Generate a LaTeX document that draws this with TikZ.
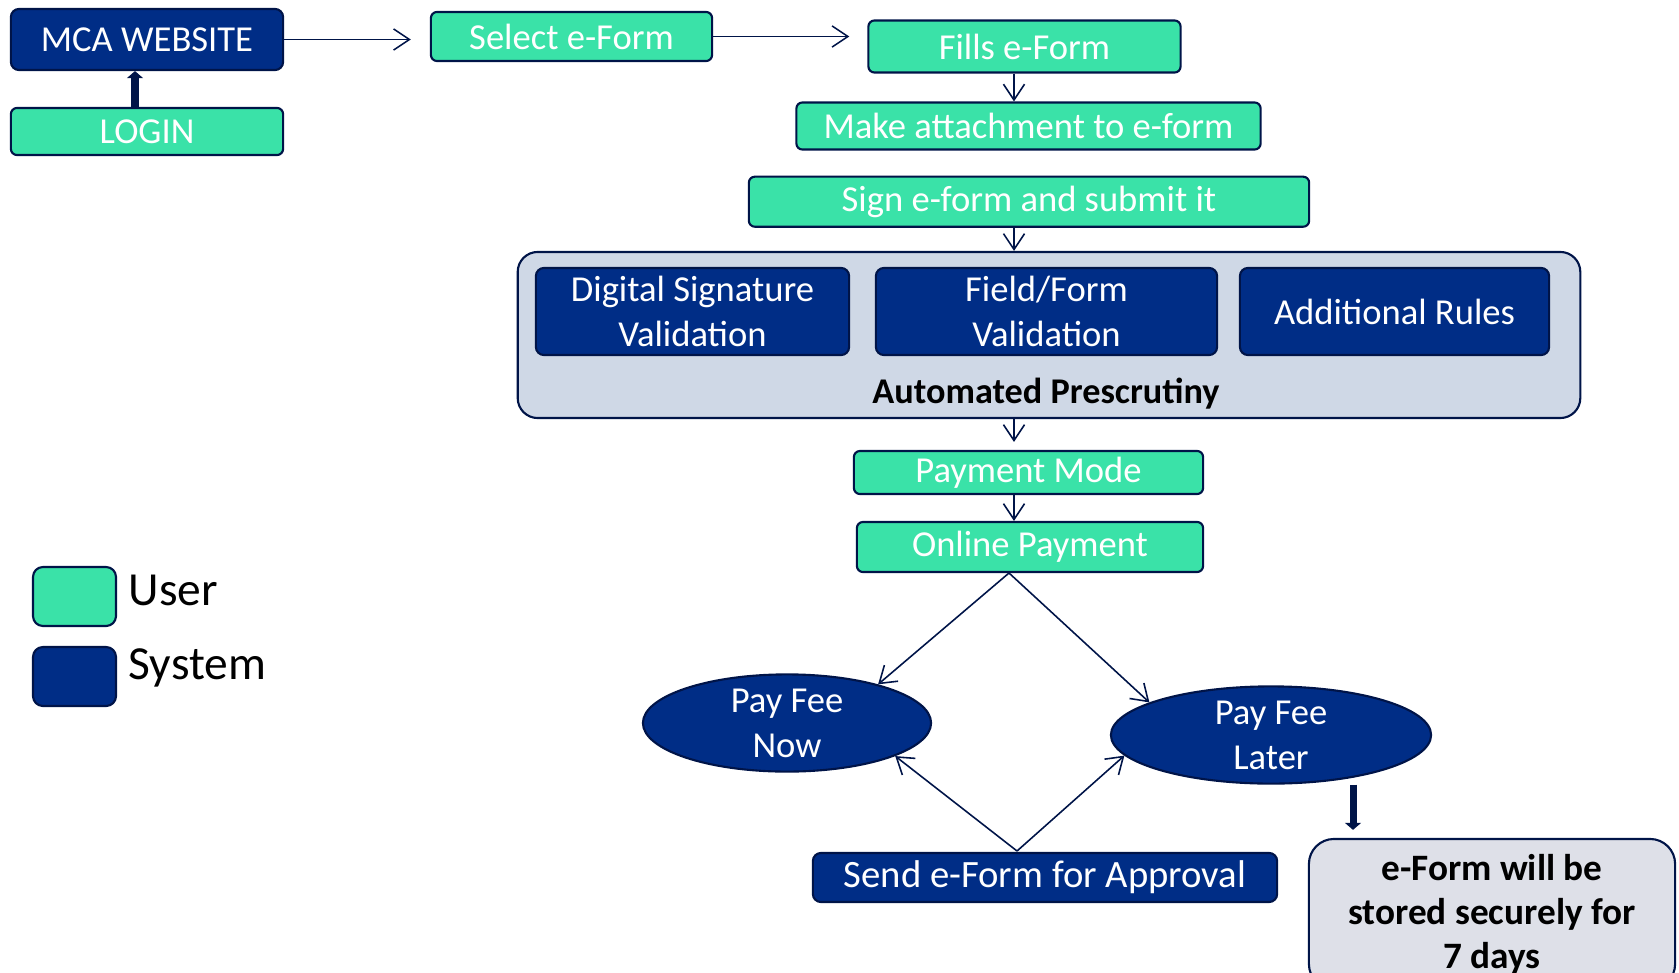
\documentclass[tikz,border=0pt]{standalone}
\usepackage{fontspec}
\setmainfont{Carlito}
\usetikzlibrary{shapes.geometric, arrows.meta}

\definecolor{usergreen}{RGB}{58,226,168}
\definecolor{sysblue}{RGB}{0,45,134}
\definecolor{edgeblue}{RGB}{0,20,72}
\definecolor{prefill}{RGB}{207,216,230}
\definecolor{notefill}{RGB}{222,224,232}

\begin{document}
\begin{tikzpicture}[x=0.01cm, y=-0.01cm,
  userbox/.style={draw=edgeblue, line width=0.6pt, fill=usergreen, rounded corners=0.06cm,
    text=white, inner sep=0pt, font=\fontsize{10.4}{12.8}\selectfont},
  sysbox/.style={draw=edgeblue, line width=0.6pt, fill=sysblue, rounded corners=0.08cm,
    text=white, inner sep=0pt, align=center, font=\fontsize{10.4}{12.8}\selectfont},
  sysoval/.style={ellipse, draw=edgeblue, line width=0.6pt, fill=sysblue,
    text=white, inner sep=0pt, align=center, font=\fontsize{10.4}{12.8}\selectfont},
  flow/.style={draw=edgeblue, line width=0.45pt, -{Straight Barb[length=4.5pt,width=6pt]}},
  bigflow/.style={draw=edgeblue, line width=2pt, -{Triangle[length=2pt,width=4.5pt]}}]
\useasboundingbox (0,0) rectangle (1679,973);

\node[sysbox, minimum width=2.72cm, minimum height=0.61cm] (web) at (147,39.5) {MCA WEBSITE};
\node[userbox, minimum width=2.72cm, minimum height=0.47cm] (login) at (147,131.5) {LOGIN};
\node[userbox, minimum width=2.81cm, minimum height=0.49cm] (select) at (571.5,36.5) {Select e-Form};
\node[userbox, minimum width=3.12cm, minimum height=0.52cm] (fills) at (1024.5,46.5) {Fills e-Form};
\node[userbox, minimum width=4.64cm, minimum height=0.47cm] (attach) at (1028.5,126) {Make attachment to e-form};
\node[userbox, minimum width=5.60cm, minimum height=0.50cm] (sign) at (1029,201.7) {Sign e-form and submit it};

\node[draw=edgeblue, line width=0.6pt, fill=prefill, rounded corners=0.2cm,
  minimum width=10.62cm, minimum height=1.66cm, inner sep=0pt] (auto) at (1049,335) {};
\node[sysbox, minimum width=3.13cm, minimum height=0.87cm] (digsig) at (692.5,311.5) {Digital Signature\\Validation};
\node[sysbox, minimum width=3.41cm, minimum height=0.87cm] (fieldform) at (1046.5,311.5) {Field/Form\\Validation};
\node[sysbox, minimum width=3.09cm, minimum height=0.87cm] (rules) at (1394.5,311.5) {Additional Rules};
\node[font=\fontsize{10.3}{12}\selectfont\bfseries] (autotitle) at (1046,394) {Automated Prescrutiny};

\node[userbox, minimum width=3.49cm, minimum height=0.43cm] (paymode) at (1028.5,472.5) {Payment Mode};
\node[userbox, minimum width=3.46cm, minimum height=0.50cm] (online) at (1030,547) {Online Payment};

\node[sysoval, minimum width=2.88cm, minimum height=0.90cm] (now) at (787,723) {Pay Fee\\Now};
\node[sysoval, minimum width=3.20cm, minimum height=0.90cm] (later) at (1271,735) {Pay Fee\\Later};
\node[sysbox, minimum width=4.64cm, minimum height=0.49cm, font=\fontsize{11}{12.8}\selectfont] (send) at (1045,877.5) {Send e-Form for Approval};
\node[draw=edgeblue, line width=0.6pt, fill=notefill, rounded corners=0.25cm, align=center,
  minimum width=3.66cm, minimum height=1.50cm, inner sep=0pt,
  font=\fontsize{10.6}{12.5}\selectfont\bfseries] (store) at (1492,914) {e-Form will be\\stored securely for\\7 days};

\node[userbox, minimum width=0.83cm, minimum height=0.59cm, rounded corners=0.1cm] (keyuser) at (74.5,596.5) {};
\node[sysbox, minimum width=0.83cm, minimum height=0.59cm, rounded corners=0.1cm] (keysys) at (74.5,676.5) {};
\node[anchor=base west, inner sep=0pt, font=\fontsize{13.5}{15}\selectfont] (keyusertext) at (128,605) {User};
\node[anchor=base west, inner sep=0pt, font=\fontsize{13.5}{15}\selectfont] (keysystext) at (128,679) {System};

\coordinate (col) at (1014,0);
\coordinate (loginarrow) at (135,0);
\coordinate (storearrow) at (1353,0);
\coordinate (split) at (1009,573);
\coordinate (sendtop) at (1017,851);

\draw[bigflow] (login.north -| loginarrow) -- (web.south -| loginarrow);
\draw[flow, shorten >=0.19cm] (web.east) -- (web.east -| select.west);
\draw[flow, shorten >=0.18cm] (select.east) -- (select.east -| fills.west);
\draw[flow] (fills.south -| col) -- (attach.north -| col);
\draw[flow] (sign.south -| col) -- (auto.north -| col);
\draw[flow, shorten >=0.08cm] (auto.south -| col) -- (paymode.north -| col);
\draw[flow] (paymode.south -| col) -- (online.north -| col);

\draw[flow] (split) -- (now.23);
\draw[flow] (split) -- (later.165);
\draw[flow] (sendtop) -- (now.-17);
\draw[flow] (sendtop) -- (later.188);
\draw[bigflow, shorten >=0.08cm] (later.south -| storearrow) -- (store.north -| storearrow);
\end{tikzpicture}
\end{document}
